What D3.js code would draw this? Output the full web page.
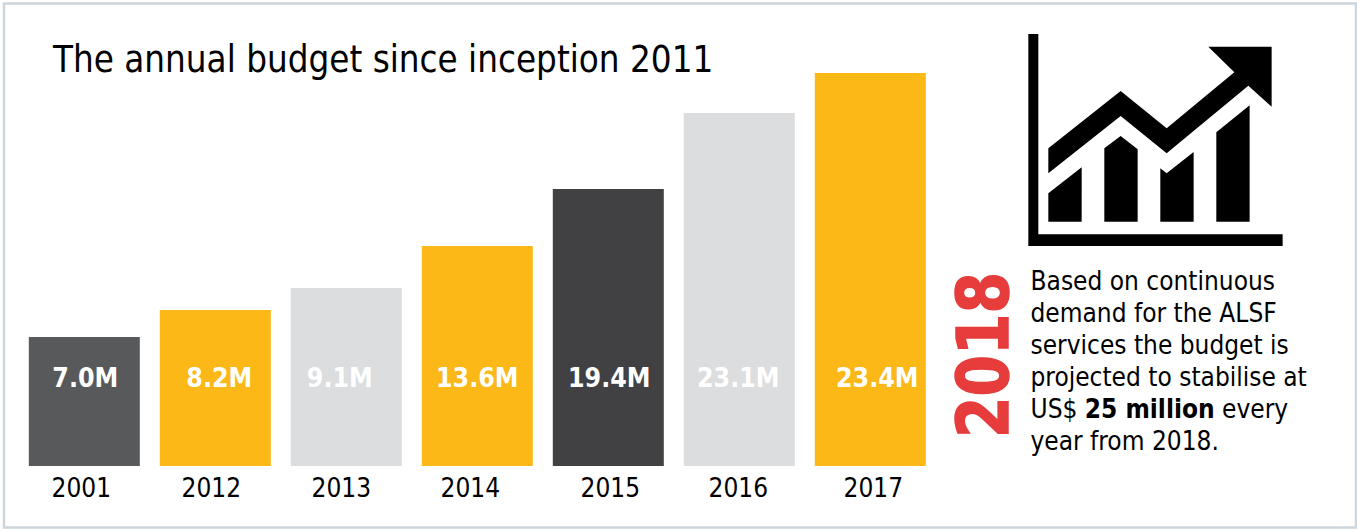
<!DOCTYPE html>
<meta charset="utf-8">
<script src="https://d3js.org/d3.v7.min.js"></script>
<style>
    html, body { margin: 0; padding: 0; background: white; }
    svg { display: block; }
    text { font-family: "DejaVu Sans Condensed", "DejaVu Sans", sans-serif; fill: #000; }
</style>

<body>
    <div id="my_dataviz"></div>
</body>
<script>

    // the bars in the source are not drawn to scale with their labels,
    // so the height read off the picture is kept apart from the printed value
    var years = ["2001", "2012", "2013", "2014", "2015", "2016", "2017"];
    var barLevels = [129, 156, 178, 220, 277, 353, 393];
    var valueLabels = ["7.0M", "8.2M", "9.1M", "13.6M", "19.4M", "23.1M", "23.4M"];
    var barColors = ["#58595b", "#fbb817", "#dcddde", "#fbb817", "#414042", "#dcddde", "#fbb817"];

    var titleText = "The annual budget since inception 2011";
    var noteLines = [
        ["Based on continuous"],
        ["demand for the ALSF"],
        ["services the budget is"],
        ["projected to stabilise at"],
        ["US$ ", "25 million", " every"],
        ["year from 2018."]
    ];

    // the labels are not quite centred in the source
    var valueNudge = [1, 4, -6.5, 0, 1, -1, 7];
    var yearNudge = [-3, -4, -5, -7, 2, -1, 3];

    var width = 1357,
        height = 529;

    var svg = d3.select("#my_dataviz")
        .append("svg")
        .attr("width", width)
        .attr("height", height);

    // frame
    svg.append("rect")
        .attr("x", 4)
        .attr("y", 3.5)
        .attr("width", 1352)
        .attr("height", 524)
        .attr("fill", "white")
        .attr("stroke", "#ccd6dc")
        .attr("stroke-width", 2.5);

    var x = d3.scaleBand()
        .domain(years)
        .range([28.8, 925.8])
        .paddingInner(20 / 131);

    var y = d3.scaleLinear()
        .domain([0, 393])
        .range([466, 73]);

    svg.selectAll(".bar")
        .data(years)
        .enter()
        .append("rect")
        .attr("class", "bar")
        .attr("x", function (d) { return x(d) })
        .attr("y", function (d, i) { return y(barLevels[i]) })
        .attr("width", x.bandwidth())
        .attr("height", function (d, i) { return y(0) - y(barLevels[i]) })
        .style("fill", function (d, i) { return barColors[i] });

    svg.selectAll(".value")
        .data(years)
        .enter()
        .append("text")
        .attr("class", "value")
        .attr("x", function (d, i) { return x(d) + x.bandwidth() / 2 + valueNudge[i] })
        .attr("y", 387)
        .attr("text-anchor", "middle")
        .style("fill", "white")
        .style("font-size", "26.5px")
        .style("font-weight", "bold")
        .text(function (d, i) { return valueLabels[i] });

    var xAxis = svg.append("g")
        .attr("transform", "translate(0,466)")
        .call(d3.axisBottom(x).tickSize(0).tickPadding(13));
    xAxis.select(".domain").remove();
    xAxis.selectAll("text")
        .style("font-size", "26px")
        .attr("dx", function (d, i) { return yearNudge[i] });

    svg.append("text")
        .attr("x", 53)
        .attr("y", 72)
        .style("font-size", "36.4px")
        .text(titleText);

    // icon, traced in the pixel grid of a 3x crop
    var icon = svg.append("g")
        .attr("transform", "translate(1000,20) scale(0.3333)");
    var iconPaths = [
        "M85,42H115V643H848V678H85Z",
        "M145,385L362,213L500,325L703,157L625,80H815V260L745,197L500,400L362,288L145,460Z",
        "M145,520L245,442V605H145Z",
        "M313,385L362,348L413,388V605H313Z",
        "M481,445L500,460L581,396V605H481Z",
        "M649,337L749,256V605H649Z"
    ];
    icon.selectAll("path")
        .data(iconPaths)
        .enter()
        .append("path")
        .attr("d", function (d) { return d })
        .attr("fill", "black");

    svg.append("text")
        .attr("transform", "translate(1008,438) rotate(-90)")
        .attr("textLength", 166)
        .attr("lengthAdjust", "spacingAndGlyphs")
        .style("fill", "#e63c3c")
        .style("stroke", "#e63c3c")
        .style("stroke-width", 1.5)
        .style("font-size", "71px")
        .style("font-weight", "bold")
        .text("2018");

    var note = svg.selectAll(".note")
        .data(noteLines)
        .enter()
        .append("text")
        .attr("class", "note")
        .attr("x", 1030.5)
        .attr("y", function (d, i) { return 290 + i * 32 })
        .style("font-size", "26px")
        .style("white-space", "pre");
    note.selectAll("tspan")
        .data(function (d) { return d })
        .enter()
        .append("tspan")
        .style("font-weight", function (d) { return d == "25 million" ? "bold" : null })
        .text(function (d) { return d });

</script>
